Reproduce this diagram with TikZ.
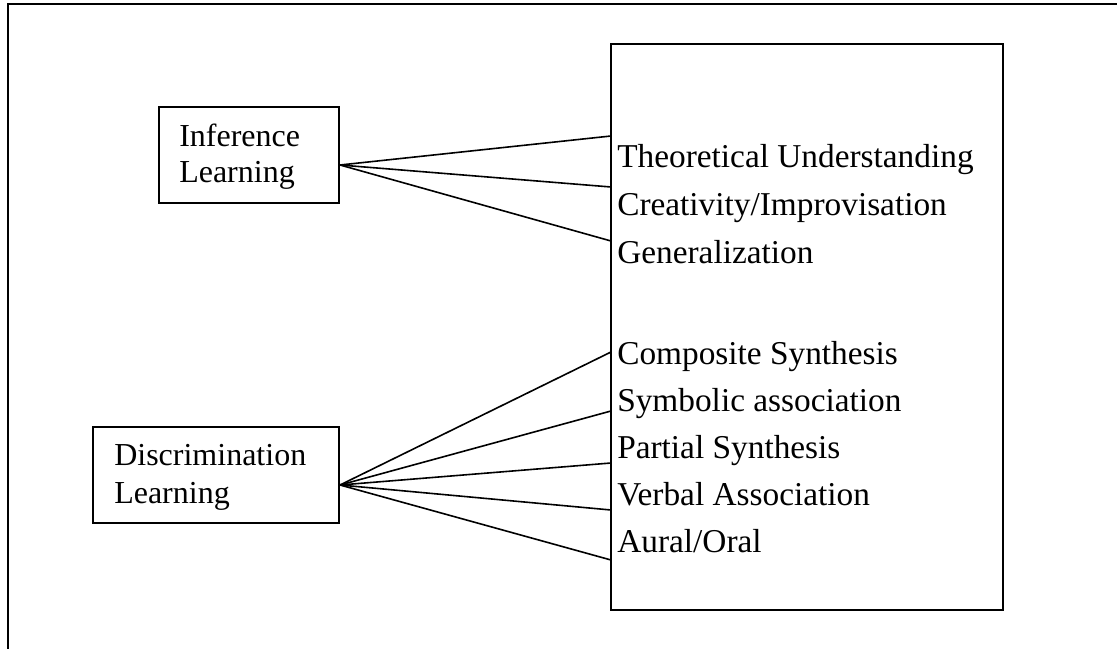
\documentclass[tikz,border=0pt]{standalone}
\usepackage{fontspec}
\setmainfont{Liberation Serif}
\begin{document}
\begin{tikzpicture}[x=0.75pt,y=-0.75pt,
  frame/.style={line width=2pt},
  box/.style={draw,line width=1.5pt},
  conn/.style={line width=1.2pt},
  lbl/.style={anchor=base west,inner sep=0pt,font=\fontsize{24}{28}\selectfont},
  rlbl/.style={anchor=base west,inner sep=0pt,font=\fontsize{25}{29}\selectfont}]
\useasboundingbox (0,0) rectangle (1117,649);
% outer frame (top and left only)
\draw[frame] (8,649) -- (8,4) -- (1117,4);
% boxes
\draw[box] (159,107) rectangle (339,203);
\draw[box] (93,427) rectangle (339,523);
\draw[box] (611,44) rectangle (1003,610);
% left texts
\node[lbl] (inf1) at (179,147) {Inference};
\node[lbl] (inf2) at (179,183) {Learning};
\node[lbl] (dis1) at (114,465) {Discrimination};
\node[lbl] (dis2) at (114,503) {Learning};
% right texts
\node[rlbl] (t1) at (617,168) {Theoretical Understanding};
\node[rlbl] (t2) at (617,215) {Creativity/Improvisation};
\node[rlbl] (t3) at (617,263) {Generalization};
\node[rlbl] (t4) at (617,364) {Composite Synthesis};
\node[rlbl] (t5) at (617,411) {Symbolic association};
\node[rlbl] (t6) at (617,458) {Partial Synthesis};
\node[rlbl] (t7) at (617,505) {Verbal Association};
\node[rlbl] (t8) at (617,552) {Aural/Oral};
% fan origins and ends
\coordinate (oi) at (340,165);
\coordinate (od) at (340,485);
\coordinate (e1) at (611,136);
\coordinate (e2) at (611,187);
\coordinate (e3) at (611,241);
\coordinate (e4) at (611,352);
\coordinate (e5) at (611,411);
\coordinate (e6) at (611,463);
\coordinate (e7) at (611,510);
\coordinate (e8) at (611,560);
\foreach \e in {e1,e2,e3} \draw[conn] (oi) -- (\e);
\foreach \e in {e4,e5,e6,e7,e8} \draw[conn] (od) -- (\e);
\end{tikzpicture}
\end{document}
